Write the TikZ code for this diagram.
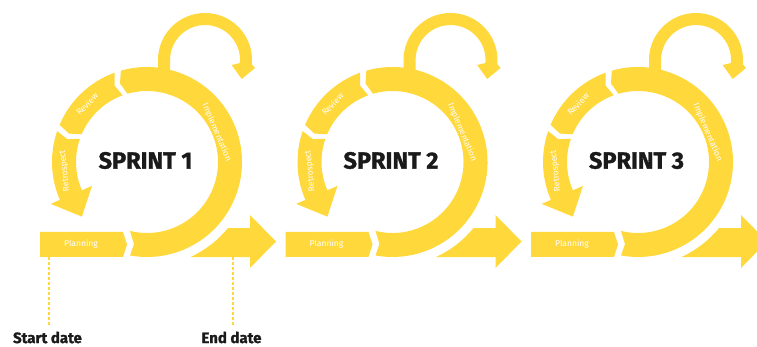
\documentclass[tikz,border=0pt]{standalone}
\usepackage{fontspec}
\setmainfont{Fira Sans}
\newfontfamily\heavyfont{Fira Sans}[BoldFeatures={FakeBold=1.2}]
\definecolor{sy}{HTML}{FFD83C}
\definecolor{ink}{HTML}{1A1A1A}
\begin{document}
\begin{tikzpicture}[x=1pt,y=1pt,
  band/.style={fill=sy, draw=none},
  lbl/.style={text=white, font=\fontsize{8.5}{9}\selectfont, inner sep=0pt},
  sprinttitle/.style={text=ink, font=\heavyfont\fontsize{23.5}{24}\selectfont\bfseries, inner sep=0pt},
  datelbl/.style={text=ink, font=\heavyfont\fontsize{15}{16}\selectfont\bfseries, inner sep=0pt},
  guide/.style={draw=sy, line width=1.3pt, dash pattern=on 3pt off 2pt}]
\useasboundingbox (0,0) rectangle (757,-347);

\foreach \n/\ox in {1/0,2/245.5,3/491}{
\begin{scope}[shift={(147+\ox,-162)}]
  % planning bar
  \fill[band] (-107,-70) -- (-24,-70) -- (-20,-82.5) -- (-24,-95) -- (-107,-95) -- cycle;
  \node[lbl] (plan\n) at (-66,-82.5) {Planning};
  % implementation ring
  \fill[band] (-100.3:95) -- (-13,-82) -- (-103.9:71)
     arc[start angle=-103.9, end angle=106, radius=71] -- (109:83) -- (106:95)
     arc[start angle=106, end angle=-100.3, radius=95] -- cycle;
  % review
  \fill[band] (110:95) -- (113:83) -- (110:71)
     arc[start angle=110, end angle=157, radius=71] -- (160:83) -- (157:95)
     arc[start angle=157, end angle=110, radius=95] -- cycle;
  % retrospect
  \fill[band] (161:95) -- (164:83) -- (161:71)
     arc[start angle=161, end angle=203.5, radius=71] -- (203.5:60) -- (220:85) -- (203.5:105) -- (203.5:95)
     arc[start angle=203.5, end angle=161, radius=95] -- cycle;
  % output arrow
  \fill[band] (-65.4:104.5) arc[start angle=-65.4, end angle=-39.2, radius=104.5]
     -- (103,-66) -- (103,-53) -- (129,-79.5) -- (103,-106) -- (103,-95) -- cycle;
  % small loop
  \fill[band] (11,85) -- (11,102) arc[start angle=180, end angle=-5, radius=47]
     -- (108,94) -- (94.7,83) -- (84.7,97) -- (92.9,98.95)
     arc[start angle=-5, end angle=180, radius=35] -- (23,85) -- cycle;
  % labels
  \node[sprinttitle] (title\n) at (-1.5,1.5) {SPRINT \n};
  \node[lbl, rotate=46] (rev\n) at (-60,58) {Review};
  \node[lbl, rotate=96] (retro\n) at (-82,-9) {Retrospect};
  \node[lbl, rotate=-67] (impl\n) at (69.7,29.5) {Implementation};
\end{scope}
}

\node[datelbl] (start) at (47.5,-337.5) {Start date};
\node[datelbl] (end) at (231.5,-337.5) {End date};
\coordinate (s0) at (49,-257);
\coordinate (e0) at (233,-257);
\draw[guide, shorten >=5pt] (s0) -- (s0 |- start.north);
\draw[guide, shorten >=5pt] (e0) -- (e0 |- end.north);
\end{tikzpicture}
\end{document}
